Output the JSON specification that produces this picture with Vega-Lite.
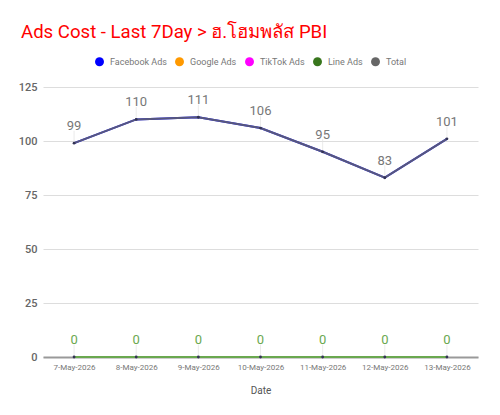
{
  "$schema": "https://vega.github.io/schema/vega-lite/v6.json",
  "autosize": {"type": "none"},
  "width": 435,
  "height": 270,
  "padding": {"left": 43, "top": 87, "right": 22, "bottom": 58},
  "background": "white",
  "config": {
    "font": "Roboto",
    "view": {"stroke": null}
  },
  "title": {
    "text": "Ads Cost - Last 7Day > ฮ.โฮมพลัส PBI",
    "anchor": "start",
    "frame": "group",
    "dx": -22,
    "offset": 15,
    "fontSize": 18.6,
    "fontWeight": "normal",
    "color": "#ff0000",
    "font": "Roboto"
  },
  "data": {
    "values": [
      {"date": "7-May-2026", "series": "Facebook Ads", "value": 99},
      {"date": "8-May-2026", "series": "Facebook Ads", "value": 110},
      {"date": "9-May-2026", "series": "Facebook Ads", "value": 111},
      {"date": "10-May-2026", "series": "Facebook Ads", "value": 106},
      {"date": "11-May-2026", "series": "Facebook Ads", "value": 95},
      {"date": "12-May-2026", "series": "Facebook Ads", "value": 83},
      {"date": "13-May-2026", "series": "Facebook Ads", "value": 101},
      {"date": "7-May-2026", "series": "Google Ads", "value": 0},
      {"date": "8-May-2026", "series": "Google Ads", "value": 0},
      {"date": "9-May-2026", "series": "Google Ads", "value": 0},
      {"date": "10-May-2026", "series": "Google Ads", "value": 0},
      {"date": "11-May-2026", "series": "Google Ads", "value": 0},
      {"date": "12-May-2026", "series": "Google Ads", "value": 0},
      {"date": "13-May-2026", "series": "Google Ads", "value": 0},
      {"date": "7-May-2026", "series": "TikTok Ads", "value": 0},
      {"date": "8-May-2026", "series": "TikTok Ads", "value": 0},
      {"date": "9-May-2026", "series": "TikTok Ads", "value": 0},
      {"date": "10-May-2026", "series": "TikTok Ads", "value": 0},
      {"date": "11-May-2026", "series": "TikTok Ads", "value": 0},
      {"date": "12-May-2026", "series": "TikTok Ads", "value": 0},
      {"date": "13-May-2026", "series": "TikTok Ads", "value": 0},
      {"date": "7-May-2026", "series": "Line Ads", "value": 0},
      {"date": "8-May-2026", "series": "Line Ads", "value": 0},
      {"date": "9-May-2026", "series": "Line Ads", "value": 0},
      {"date": "10-May-2026", "series": "Line Ads", "value": 0},
      {"date": "11-May-2026", "series": "Line Ads", "value": 0},
      {"date": "12-May-2026", "series": "Line Ads", "value": 0},
      {"date": "13-May-2026", "series": "Line Ads", "value": 0},
      {"date": "7-May-2026", "series": "Total", "value": 99},
      {"date": "8-May-2026", "series": "Total", "value": 110},
      {"date": "9-May-2026", "series": "Total", "value": 111},
      {"date": "10-May-2026", "series": "Total", "value": 106},
      {"date": "11-May-2026", "series": "Total", "value": 95},
      {"date": "12-May-2026", "series": "Total", "value": 83},
      {"date": "13-May-2026", "series": "Total", "value": 101}
    ]
  },
  "encoding": {
    "x": {
      "field": "date",
      "type": "ordinal",
      "sort": null,
      "scale": {"type": "point", "padding": 0.5},
      "axis": {
        "title": "Date",
        "titleFont": "Roboto",
        "titleFontSize": 10,
        "titleFontWeight": "normal",
        "titleColor": "#555555",
        "titlePadding": 14,
        "labelAngle": 0,
        "labelFontSize": 8,
        "labelColor": "#777777",
        "labelPadding": 6,
        "ticks": false,
        "domainColor": "#999999",
        "domainWidth": 2,
        "grid": false
      }
    },
    "y": {
      "field": "value",
      "type": "quantitative",
      "scale": {"domain": [0, 125], "nice": false},
      "axis": {
        "title": null,
        "values": [0, 25, 50, 75, 100, 125],
        "labelFontSize": 11,
        "labelFontWeight": 500,
        "labelColor": "#666666",
        "labelPadding": 6,
        "ticks": false,
        "domain": false,
        "gridColor": "#dddddd",
        "gridWidth": 1
      }
    }
  },
  "layer": [
    {
      "transform": [{"filter": "datum.series !== 'Total' && datum.series !== 'Line Ads'"}],
      "mark": {"type": "line", "strokeWidth": 2},
      "encoding": {
        "color": {
          "field": "series",
          "type": "nominal",
          "scale": {
            "domain": ["Facebook Ads", "Google Ads", "TikTok Ads", "Line Ads", "Total"],
            "range": ["#0000ff", "#ff9900", "#ff00ff", "#38761d", "#666666"]
          },
          "legend": {
            "title": null,
            "orient": "none",
            "direction": "horizontal",
            "legendX": 52,
            "legendY": -30,
            "symbolType": "circle",
            "symbolSize": 80,
            "symbolStrokeWidth": 0,
            "labelFont": "Roboto",
            "labelFontSize": 9,
            "labelColor": "#777777",
            "labelOffset": 6,
            "columnPadding": 8,
            "encode": {
              "symbols": {
                "update": {
                  "fill": {"scale": "color", "field": "value"},
                  "opacity": {"value": 1}
                }
              }
            }
          }
        }
      }
    },
    {
      "transform": [{"filter": "datum.series === 'Total'"}],
      "mark": {"type": "line", "strokeWidth": 2, "opacity": 0.85},
      "encoding": {"color": {"field": "series", "type": "nominal"}}
    },
    {
      "transform": [{"filter": "datum.series === 'Line Ads'"}],
      "mark": {"type": "line", "strokeWidth": 2, "stroke": "#6aa84f"},
      "encoding": {}
    },
    {
      "transform": [{"filter": "datum.series === 'Total' || datum.series === 'Line Ads'"}],
      "mark": {"type": "tick", "orient": "vertical", "size": 11, "thickness": 1, "color": "#e2e2e2", "yOffset": -7},
      "encoding": {}
    },
    {
      "transform": [{"filter": "datum.series === 'Total' || datum.series === 'Line Ads'"}],
      "mark": {"type": "point", "filled": true, "size": 8, "color": "#333355", "opacity": 1},
      "encoding": {}
    },
    {
      "transform": [{"filter": "datum.series === 'Total'"}],
      "mark": {"type": "text", "dy": -17, "fontSize": 13, "color": "#777777", "font": "Roboto"},
      "encoding": {"text": {"field": "value", "type": "quantitative"}}
    },
    {
      "transform": [{"filter": "datum.series === 'Line Ads'"}],
      "mark": {"type": "text", "dy": -17, "fontSize": 13, "color": "#6aa84f", "font": "Roboto"},
      "encoding": {"text": {"field": "value", "type": "quantitative"}}
    }
  ]
}
